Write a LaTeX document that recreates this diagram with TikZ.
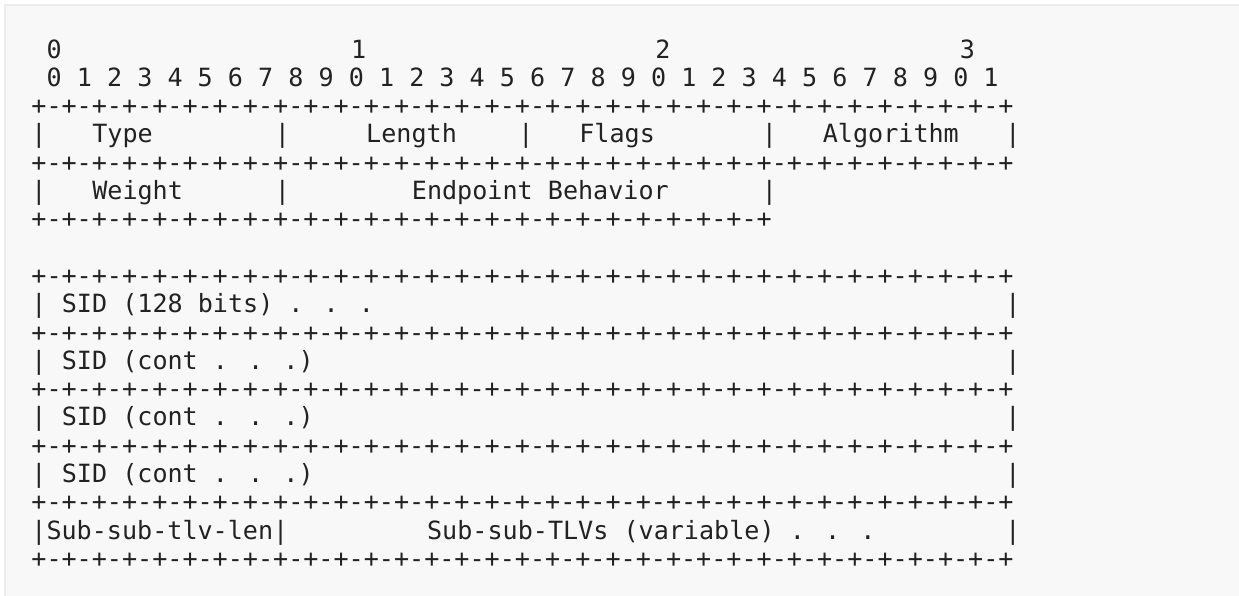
\documentclass[tikz,border=0pt]{standalone}
\usepackage{fontspec}
\newfontfamily\monofont{DejaVu Sans Mono}
\definecolor{pagebg}{HTML}{FFFFFF}
\definecolor{codebg}{HTML}{F8F8F8}
\definecolor{codeframe}{HTML}{ECECEC}
\definecolor{codeink}{HTML}{222222}
% column width and line pitch of the monospaced grid
\newcommand{\cw}{15.22}
\newcommand{\lh}{28.3}
\newcommand{\xo}{31.4}
\newcommand{\yo}{58}
% \seg{name}{row}{column}{text}
\newcommand{\seg}[4]{\node[cell] (#1) at ({\xo+#3*\cw},{\yo+(#2-1)*\lh}) {#4};}
\tikzset{
  cell/.style={anchor=base west, inner sep=0pt, outer sep=0pt,
    font=\monofont\fontsize{25.1}{30}\selectfont, text=codeink},
}
\begin{document}
\begin{tikzpicture}[x=1pt,y=-1pt]
\useasboundingbox (0,0) rectangle (1239,595);
\fill[pagebg] (0,0) rectangle (1239,595);
\filldraw[fill=codebg, draw=codeframe, line width=2pt] (5,5) rectangle (1300,660);

% bit numbering
\seg{t0}{1}{1}{0}
\seg{t1}{1}{21}{1}
\seg{t2}{1}{41}{2}
\seg{t3}{1}{61}{3}
\seg{bits}{2}{1}{0 1 2 3 4 5 6 7 8 9 0 1 2 3 4 5 6 7 8 9 0 1 2 3 4 5 6 7 8 9 0 1}

% first word
\seg{ra}{3}{0}{+-+-+-+-+-+-+-+-+-+-+-+-+-+-+-+-+-+-+-+-+-+-+-+-+-+-+-+-+-+-+-+-+}
\seg{p40}{4}{0}{|}
\seg{type}{4}{4}{Type}
\seg{p416}{4}{16}{|}
\seg{len}{4}{22}{Length}
\seg{p432}{4}{32}{|}
\seg{flags}{4}{36}{Flags}
\seg{p448}{4}{48}{|}
\seg{algo}{4}{52}{Algorithm}
\seg{p464}{4}{64}{|}
\seg{rb}{5}{0}{+-+-+-+-+-+-+-+-+-+-+-+-+-+-+-+-+-+-+-+-+-+-+-+-+-+-+-+-+-+-+-+-+}

% second word
\seg{p60}{6}{0}{|}
\seg{weight}{6}{4}{Weight}
\seg{p616}{6}{16}{|}
\seg{behav}{6}{25}{Endpoint Behavior}
\seg{p648}{6}{48}{|}
\seg{rc}{7}{0}{+-+-+-+-+-+-+-+-+-+-+-+-+-+-+-+-+-+-+-+-+-+-+-+-+}

% SID block
\seg{rd}{9}{0}{+-+-+-+-+-+-+-+-+-+-+-+-+-+-+-+-+-+-+-+-+-+-+-+-+-+-+-+-+-+-+-+-+}
\seg{p100}{10}{0}{|}
\seg{sid}{10}{2}{SID (128 bits) . . .}
\seg{p1064}{10}{64}{|}
\seg{re}{11}{0}{+-+-+-+-+-+-+-+-+-+-+-+-+-+-+-+-+-+-+-+-+-+-+-+-+-+-+-+-+-+-+-+-+}
\seg{p120}{12}{0}{|}
\seg{sida}{12}{2}{SID (cont . . .)}
\seg{p1264}{12}{64}{|}
\seg{rf}{13}{0}{+-+-+-+-+-+-+-+-+-+-+-+-+-+-+-+-+-+-+-+-+-+-+-+-+-+-+-+-+-+-+-+-+}
\seg{p140}{14}{0}{|}
\seg{sidb}{14}{2}{SID (cont . . .)}
\seg{p1464}{14}{64}{|}
\seg{rg}{15}{0}{+-+-+-+-+-+-+-+-+-+-+-+-+-+-+-+-+-+-+-+-+-+-+-+-+-+-+-+-+-+-+-+-+}
\seg{p160}{16}{0}{|}
\seg{sidc}{16}{2}{SID (cont . . .)}
\seg{p1664}{16}{64}{|}
\seg{rh}{17}{0}{+-+-+-+-+-+-+-+-+-+-+-+-+-+-+-+-+-+-+-+-+-+-+-+-+-+-+-+-+-+-+-+-+}

% sub-sub-TLVs
\seg{sublen}{18}{0}{|Sub-sub-tlv-len|}
\seg{subtlv}{18}{26}{Sub-sub-TLVs (variable) . . .}
\seg{p1864}{18}{64}{|}
\seg{ri}{19}{0}{+-+-+-+-+-+-+-+-+-+-+-+-+-+-+-+-+-+-+-+-+-+-+-+-+-+-+-+-+-+-+-+-+}
\end{tikzpicture}
\end{document}
